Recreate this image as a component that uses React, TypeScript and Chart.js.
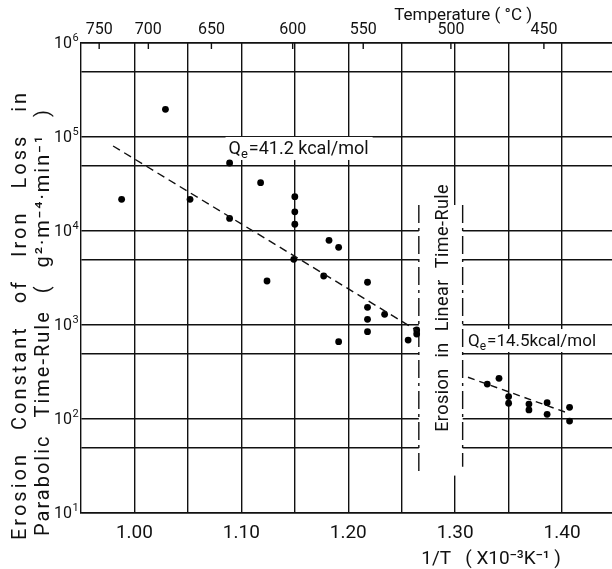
import React, { useEffect, useRef } from 'react';
import { Chart, registerables } from 'chart.js';

Chart.register(...registerables);

const FONT = "Roboto, 'DejaVu Sans', sans-serif";
const INK = '#111';

// Parabolic-regime points: 1/T (x10^-3 K^-1) and erosion constant
const upperX = [0.988, 1.029, 1.052, 1.089, 1.089, 1.118, 1.124, 1.150, 1.150, 1.150, 1.149, 1.177, 1.182, 1.191, 1.191, 1.218, 1.218, 1.218, 1.218, 1.234, 1.256, 1.264, 1.264];
const upperY = [21700, 197000, 21700, 52900, 13600, 32700, 2940, 23200, 16000, 11800, 5000, 3320, 7960, 6700, 664, 2850, 1540, 1150, 849, 1300, 692, 885, 802];
// Low-temperature points
const lowerX = [1.330, 1.341, 1.350, 1.350, 1.369, 1.369, 1.386, 1.386, 1.407, 1.407];
const lowerY = [235, 271, 173, 147, 144, 125, 149, 112, 133, 95];
// Fitted Arrhenius lines
const fitHighX = [0.980, 1.265];
const fitHighY = [80200, 863];
const fitLowX = [1.312, 1.406];
const fitLowY = [278, 115];

// Axes
const X_MIN = 0.95;
const X_MAX = 1.4467;
const xGrid = [1.0, 1.05, 1.1, 1.15, 1.2, 1.25, 1.3, 1.35, 1.4];
const xLabels = ['1.00', '1.10', '1.20', '1.30', '1.40'];
const yGrid = [10, 50, 100, 500, 1000, 5000, 10000, 50000, 100000, 500000, 1000000];
const yDecades = [1, 2, 3, 4, 5, 6];
const tempLabels = ['750', '700', '650', '600', '550', '500', '450'];
const tempPos = [0.967, 1.013, 1.072, 1.148, 1.214, 1.296, 1.383];

// Linear time-rule band
const bandX = [1.266, 1.307];
const bandY = [25, 18900];
const bandRightEnd = 31;
const bandTextStartY = 73;

// Annotation anchors (data units)
const qHigh = { x: 1.088, y: 72800, value: '=41.2 kcal/mol' };
const qLow = { x: 1.312, y: 659, value: '=14.5kcal/mol' };

const xTitle = '1/T   ( X10⁻³K⁻¹ )';
const topTitle = 'Temperature ( °C )';
const yTitle1 = 'Erosion Constant of Iron Loss in';
const yTitle2 = 'Parabolic Time-Rule ( g²·m⁻⁴·min⁻¹ )';
const bandText = 'Erosion in Linear Time-Rule';

function drawQ(ctx: CanvasRenderingContext2D, x: number, y: number, rest: string, size: number) {
  ctx.textBaseline = 'middle';
  ctx.textAlign = 'left';
  ctx.font = `${size}px ${FONT}`;
  const wQ = ctx.measureText('Q').width;
  ctx.font = `${Math.round(size * 0.72)}px ${FONT}`;
  const wE = ctx.measureText('e').width;
  ctx.font = `${size}px ${FONT}`;
  const wR = ctx.measureText(rest).width;
  const total = wQ + wE + wR;
  ctx.fillStyle = '#fff';
  ctx.fillRect(x - 3, y - 13, total + 8, 23);
  ctx.fillStyle = INK;
  ctx.font = `${size}px ${FONT}`;
  ctx.fillText('Q', x, y);
  ctx.font = `${Math.round(size * 0.72)}px ${FONT}`;
  ctx.fillText('e', x + wQ, y + 5);
  ctx.font = `${size}px ${FONT}`;
  ctx.fillText(rest, x + wQ + wE + 1, y);
}

const overlayPlugin = {
  id: 'overlay',
  beforeDatasetsDraw(chart: any) {
    const { ctx, chartArea: ca } = chart;
    const xs = chart.scales.x;
    const ys = chart.scales.y;
    const x2 = chart.scales.x2;
    ctx.save();

    // band
    const bx1 = xs.getPixelForValue(bandX[0]);
    const bx2 = xs.getPixelForValue(bandX[1]);
    const by1 = ys.getPixelForValue(bandY[1]);
    const by2 = ys.getPixelForValue(bandY[0]);
    ctx.fillStyle = '#fff';
    ctx.fillRect(bx1, by1, bx2 - bx1, by2 - by1);
    ctx.strokeStyle = INK;
    ctx.lineWidth = 1.4;
    ctx.setLineDash([18, 5, 3, 5]);
    ctx.beginPath();
    ctx.moveTo(bx1, by1);
    ctx.lineTo(bx1, by2);
    ctx.moveTo(bx2, by1);
    ctx.lineTo(bx2, ys.getPixelForValue(bandRightEnd));
    ctx.stroke();
    ctx.setLineDash([]);

    // band text
    ctx.save();
    ctx.translate((bx1 + bx2) / 2 + 7, ys.getPixelForValue(bandTextStartY));
    ctx.rotate(-Math.PI / 2);
    ctx.fillStyle = INK;
    ctx.font = `18px ${FONT}`;
    ctx.textAlign = 'left';
    ctx.textBaseline = 'alphabetic';
    (ctx as any).letterSpacing = '0.45px';
    (ctx as any).wordSpacing = '6px';
    ctx.fillText(bandText, 0, 0);
    ctx.restore();

    // Q annotations
    drawQ(ctx, xs.getPixelForValue(qHigh.x), ys.getPixelForValue(qHigh.y), qHigh.value, 18);
    drawQ(ctx, xs.getPixelForValue(qLow.x), ys.getPixelForValue(qLow.y), qLow.value, 17);

    // top tick marks (inward)
    ctx.strokeStyle = INK;
    ctx.lineWidth = 1.4;
    ctx.beginPath();
    tempPos.forEach((v) => {
      const px = x2.getPixelForValue(v);
      ctx.moveTo(px, ca.top);
      ctx.lineTo(px, ca.top + 6);
    });
    ctx.stroke();

    // y tick labels 10^n
    ctx.fillStyle = INK;
    yDecades.forEach((d) => {
      const py = ys.getPixelForValue(Math.pow(10, d));
      ctx.font = `16px ${FONT}`;
      ctx.textAlign = 'right';
      ctx.textBaseline = 'middle';
      ctx.fillText('10', ca.left - 9, py + 1);
      ctx.font = `11px ${FONT}`;
      ctx.textAlign = 'left';
      ctx.fillText(String(d), ca.left - 8.5, py - 5);
    });

    // titles
    ctx.font = `17px ${FONT}`;
    ctx.textAlign = 'center';
    ctx.textBaseline = 'middle';
    ctx.fillText(topTitle, xs.getPixelForValue(1.3075), 16);
    ctx.font = `19px ${FONT}`;
    ctx.fillText(xTitle, xs.getPixelForValue(1.3336), ca.bottom + 46);

    // y titles (rotated)
    ctx.textAlign = 'left';
    ctx.textBaseline = 'alphabetic';
    ctx.font = `20px ${FONT}`;
    ctx.save();
    (ctx as any).letterSpacing = '3px';
    (ctx as any).wordSpacing = '14px';
    ctx.translate(26, ca.bottom + 27);
    ctx.rotate(-Math.PI / 2);
    ctx.fillText(yTitle1, 0, 0);
    ctx.restore();
    ctx.save();
    (ctx as any).letterSpacing = '2px';
    (ctx as any).wordSpacing = '10px';
    ctx.translate(49, ca.bottom + 23);
    ctx.rotate(-Math.PI / 2);
    ctx.fillText(yTitle2, 0, 0);
    ctx.restore();

    ctx.restore();
  },
};

export default function App() {
  const ref = useRef<HTMLCanvasElement>(null);
  useEffect(() => {
    const canvas = ref.current!;
    const chart = new Chart(canvas, {
      type: 'scatter',
      data: {
        datasets: [
          {
            type: 'line',
            data: fitHighX.map((x, i) => ({ x, y: fitHighY[i] })),
            borderColor: INK,
            borderWidth: 1.4,
            borderDash: [8, 5],
            pointRadius: 0,
            fill: false,
          },
          {
            type: 'line',
            data: fitLowX.map((x, i) => ({ x, y: fitLowY[i] })),
            borderColor: INK,
            borderWidth: 1.4,
            borderDash: [7, 5],
            pointRadius: 0,
            fill: false,
          },
          {
            data: upperX.map((x, i) => ({ x, y: upperY[i] })),
            pointRadius: 3.4,
            backgroundColor: '#000',
            borderWidth: 0,
          },
          {
            data: lowerX.map((x, i) => ({ x, y: lowerY[i] })),
            pointRadius: 3.4,
            backgroundColor: '#000',
            borderWidth: 0,
          },
        ],
      } as any,
      options: {
        animation: false,
        responsive: true,
        maintainAspectRatio: false,
        layout: { padding: 0, autoPadding: false },
        plugins: { legend: { display: false }, tooltip: { enabled: false }, title: { display: false } },
        scales: {
          x: {
            type: 'linear',
            position: 'bottom',
            min: X_MIN,
            max: X_MAX,
            afterBuildTicks: (s: any) => {
              s.ticks = xGrid.map((v) => ({ value: v }));
            },
            afterFit: (s: any) => {
              s.height = 56;
            },
            grid: { color: INK, lineWidth: 1.4, drawTicks: false },
            border: { color: INK, width: 1.4 },
            ticks: {
              callback: (v: any) => {
                const s = Number(v).toFixed(2);
                return xLabels.includes(s) ? s : '';
              },
              font: { family: FONT, size: 19 },
              color: INK,
              padding: 9,
              maxRotation: 0,
              autoSkip: false,
            },
          },
          x2: {
            type: 'linear',
            position: 'top',
            min: X_MIN,
            max: X_MAX,
            afterBuildTicks: (s: any) => {
              s.ticks = tempPos.map((v) => ({ value: v }));
            },
            afterFit: (s: any) => {
              s.height = 43;
            },
            grid: { display: false, drawTicks: false },
            border: { color: INK, width: 1.4 },
            ticks: {
              callback: (_v: any, i: number) => tempLabels[i],
              font: { family: FONT, size: 16 },
              color: INK,
              padding: 3,
              maxRotation: 0,
              autoSkip: false,
            },
          },
          y: {
            type: 'logarithmic',
            min: 10,
            max: 1000000,
            afterBuildTicks: (s: any) => {
              s.ticks = yGrid.map((v) => ({ value: v }));
            },
            afterFit: (s: any) => {
              s.width = 81;
            },
            grid: { color: INK, lineWidth: 1.4, drawTicks: false },
            border: { color: INK, width: 1.4 },
            ticks: { display: false },
          },
        },
      } as any,
      plugins: [overlayPlugin],
    });
    return () => chart.destroy();
  }, []);

  return (
    <div style={{ position: 'fixed', left: 0, top: 0, width: 612, height: 569, background: '#fff' }}>
      <canvas ref={ref} />
    </div>
  );
}
